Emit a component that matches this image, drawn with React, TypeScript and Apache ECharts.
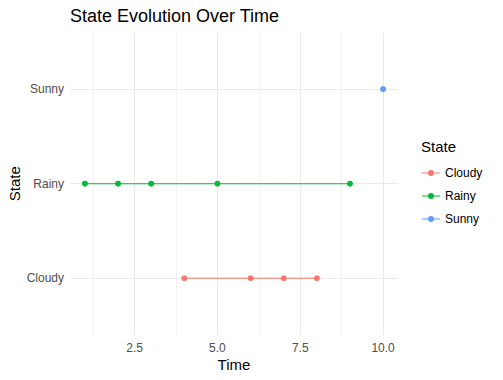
import React, { useEffect, useRef } from "react";
import * as echarts from "echarts";

const states = ["Cloudy", "Rainy", "Sunny"];
const stateColors = ["#F8766D", "#00BA38", "#619CFF"];
const cloudyTime = [4, 6, 7, 8];
const rainyTime = [1, 2, 3, 5, 9];
const sunnyTime = [10];
const majorTicks = [2.5, 5.0, 7.5, 10.0];
const minorTicks = [1.25, 3.75, 6.25, 8.75];
const stateTicks = [1, 2, 3];

const FONT = "Liberation Sans, Arial, sans-serif";
const LEGEND_ICON =
  "path://M0,2.55 L18,2.55 L18,3.45 L0,3.45 Z M9,0 A3,3 0 1,1 9,6 A3,3 0 1,1 9,0 Z";

export default function App() {
  const ref = useRef<HTMLDivElement>(null);
  useEffect(() => {
    if (!ref.current) return;
    const chart = echarts.init(ref.current, null, { renderer: "svg" });
    const times = [cloudyTime, rainyTime, sunnyTime];
    const series = states.map((s, i) => ({
      name: s,
      type: "line",
      xAxisIndex: 0,
      yAxisIndex: 0,
      data: times[i].map((t) => [t, i + 1]),
      symbol: "circle",
      symbolSize: 6,
      showSymbol: true,
      color: stateColors[i],
      z: 5,
      lineStyle: { color: stateColors[i], width: 1.15, opacity: 1 },
      itemStyle: { color: stateColors[i] },
      emphasis: { disabled: true },
    }));
    chart.setOption({
      animation: false,
      textStyle: { fontFamily: FONT },
      title: [
        {
          text: "State Evolution Over Time",
          left: 65,
          top: 2,
          padding: 5,
          textStyle: { fontSize: 18, fontWeight: "normal", color: "#000", fontFamily: FONT },
        },
        {
          text: "State",
          left: 416,
          top: 134,
          padding: 5,
          textStyle: { fontSize: 15, fontWeight: "normal", color: "#000", fontFamily: FONT },
        },
      ],
      legend: {
        orient: "vertical",
        left: 417,
        top: 162,
        itemWidth: 18,
        itemHeight: 6,
        itemGap: 11,
        icon: LEGEND_ICON,
        textStyle: { fontSize: 12, color: "#000", fontFamily: FONT },
        data: states.map((s, i) => ({ name: s, itemStyle: { color: stateColors[i] } })),
      },
      grid: {
        left: 70,
        right: 105,
        top: 32.4,
        bottom: 45,
        containLabel: false,
        outerBoundsMode: "none",
      },
      xAxis: [
        {
          type: "value",
          min: 0.55,
          max: 10.45,
          name: "Time",
          nameLocation: "middle",
          nameGap: 22,
          nameMoveOverlap: false,
          nameTextStyle: { fontSize: 15, color: "#000", fontFamily: FONT },
          axisLine: { show: false },
          axisTick: { show: false, customValues: majorTicks },
          axisLabel: {
            customValues: majorTicks,
            formatter: (v: number) => v.toFixed(1),
            color: "#4D4D4D",
            fontSize: 12,
            margin: 7,
            fontFamily: FONT,
          },
          splitLine: { show: true, lineStyle: { color: "#EBEBEB", width: 1.07 } },
        },
        {
          type: "value",
          min: 0.55,
          max: 10.45,
          position: "bottom",
          axisLine: { show: false },
          axisTick: { show: false, customValues: minorTicks },
          axisLabel: { show: false, customValues: minorTicks },
          splitLine: { show: true, lineStyle: { color: "#EBEBEB", width: 0.6 } },
        },
      ],
      yAxis: {
        type: "value",
        min: 0.4,
        max: 3.6,
        name: "State",
        nameLocation: "middle",
        nameGap: 48,
        nameMoveOverlap: false,
        nameTextStyle: { fontSize: 15, color: "#000", fontFamily: FONT },
        axisLine: { show: false },
        axisTick: { show: false, customValues: stateTicks },
        axisLabel: {
          customValues: stateTicks,
          formatter: (v: number) => states[Math.round(v) - 1] ?? "",
          color: "#4D4D4D",
          fontSize: 12,
          margin: 6,
          fontFamily: FONT,
        },
        splitLine: { show: true, lineStyle: { color: "#EBEBEB", width: 1.07 } },
      },
      series,
    });
    return () => chart.dispose();
  }, []);
  return <div ref={ref} style={{ width: 503, height: 380, position: "absolute", left: 0, top: 0 }} />;
}
